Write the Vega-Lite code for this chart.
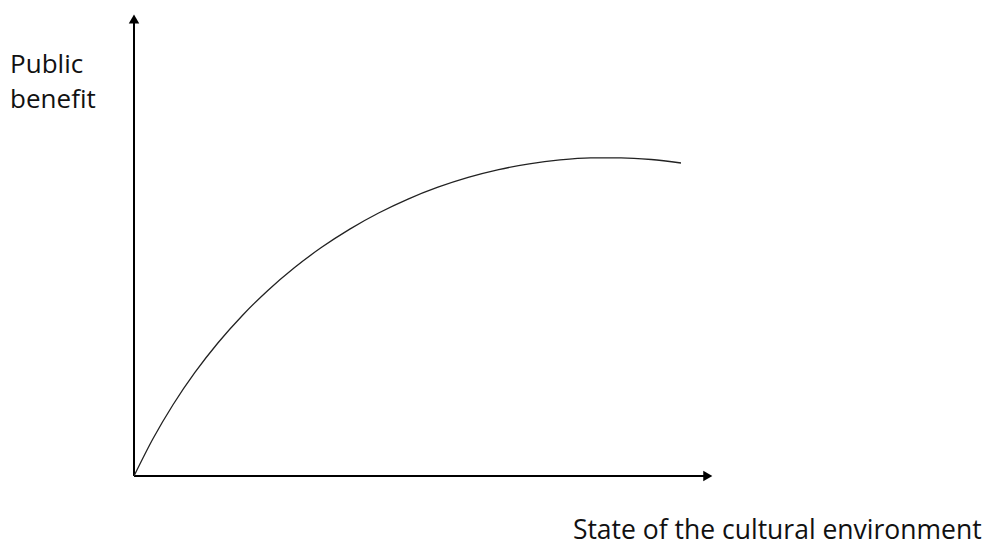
{
  "$schema": "https://vega.github.io/schema/vega-lite/v6.json",
  "autosize": {"type": "none"},
  "width": 579,
  "height": 462,
  "padding": {"left": 134, "top": 14, "right": 271, "bottom": 70},
  "background": "white",
  "config": {"view": {"stroke": null}},
  "datasets": {
    "curve": [
      {"x": 0, "y": 0},
      {"x": 3.249, "y": 8.009},
      {"x": 6.763, "y": 15.481},
      {"x": 10.525, "y": 22.420},
      {"x": 14.518, "y": 28.842},
      {"x": 18.720, "y": 34.753},
      {"x": 23.116, "y": 40.162},
      {"x": 27.684, "y": 45.071},
      {"x": 32.409, "y": 49.500},
      {"x": 37.270, "y": 53.448},
      {"x": 42.250, "y": 56.929},
      {"x": 47.328, "y": 59.946},
      {"x": 52.489, "y": 62.509},
      {"x": 57.712, "y": 64.630},
      {"x": 62.979, "y": 66.318},
      {"x": 68.273, "y": 67.573},
      {"x": 73.572, "y": 68.413},
      {"x": 78.862, "y": 68.842},
      {"x": 84.119, "y": 68.868},
      {"x": 89.330, "y": 68.502},
      {"x": 94.473, "y": 67.749}
    ],
    "axes": [
      {"x": 0, "y": 0, "x2": 99.0, "y2": 0},
      {"x": 0, "y": 0, "x2": 0, "y2": 98.8}
    ],
    "heads": [
      {"x": 99.1, "y": 0, "shape": "triangle-right"},
      {"x": 0, "y": 98.9, "shape": "triangle-up"}
    ],
    "ylabels": [
      {"x": -21.4, "y": 87.2, "label": "Public"},
      {"x": -21.4, "y": 79.6, "label": "benefit"}
    ],
    "xlabels": [
      {"x": 75.8, "y": -13.64, "label": "State of the cultural environment"}
    ]
  },
  "layer": [
    {
      "data": {"name": "axes"},
      "mark": {"type": "rule", "color": "black", "strokeWidth": 2},
      "encoding": {
        "x": {"field": "x", "type": "quantitative", "scale": {"domain": [0, 100], "nice": false, "zero": false}, "axis": null},
        "y": {"field": "y", "type": "quantitative", "scale": {"domain": [0, 100], "nice": false, "zero": false}, "axis": null},
        "x2": {"field": "x2"},
        "y2": {"field": "y2"}
      }
    },
    {
      "data": {"name": "heads"},
      "mark": {"type": "point", "filled": true, "color": "black", "size": 110, "opacity": 1},
      "encoding": {
        "x": {"field": "x", "type": "quantitative"},
        "y": {"field": "y", "type": "quantitative"},
        "shape": {"field": "shape", "type": "nominal", "scale": null, "legend": null}
      }
    },
    {
      "data": {"name": "curve"},
      "mark": {"type": "line", "interpolate": "monotone", "color": "#222222", "strokeWidth": 1.3},
      "encoding": {
        "x": {"field": "x", "type": "quantitative"},
        "y": {"field": "y", "type": "quantitative"}
      }
    },
    {
      "data": {"name": "ylabels"},
      "mark": {"type": "text", "align": "left", "baseline": "alphabetic", "font": "Open Sans", "fontSize": 26, "color": "#111111"},
      "encoding": {
        "x": {"field": "x", "type": "quantitative"},
        "y": {"field": "y", "type": "quantitative"},
        "text": {"field": "label"}
      }
    },
    {
      "data": {"name": "xlabels"},
      "mark": {"type": "text", "align": "left", "baseline": "alphabetic", "font": "Open Sans", "fontSize": 26.5, "color": "#111111"},
      "encoding": {
        "x": {"field": "x", "type": "quantitative"},
        "y": {"field": "y", "type": "quantitative"},
        "text": {"field": "label"}
      }
    }
  ]
}
